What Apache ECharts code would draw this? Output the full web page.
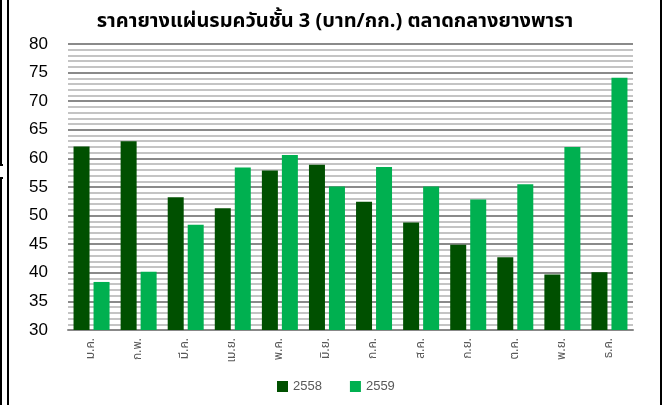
<!DOCTYPE html>
<html>
<head>
<meta charset="utf-8">
<script src="https://cdn.jsdelivr.net/npm/echarts@6/dist/echarts.min.js"></script>
<style>
html,body{margin:0;padding:0;background:#fff;}
#main{width:663px;height:405px;}
</style>
</head>
<body>
<div id="main"></div>
<script>
// เดือน
var months = ['ม.ค.','ก.พ.','มี.ค.','เม.ย.','พ.ค.','มิ.ย.','ก.ค.','ส.ค.','ก.ย.','ต.ค.','พ.ย.','ธ.ค.'];
// ราคา ปี 2558
var price2558 = [62.1, 63.0, 53.2, 51.3, 57.9, 58.9, 52.4, 48.8, 44.9, 42.7, 39.7, 40.1];
// ราคา ปี 2559
var price2559 = [38.4, 40.2, 48.4, 58.4, 60.6, 55.1, 58.5, 55.1, 52.8, 55.5, 62.0, 74.1];
var yTicks = [30, 35, 40, 45, 50, 55, 60, 65, 70, 75, 80];

var thaiFont = '"Noto Sans Thai","Loma","Tahoma","DejaVu Sans","Liberation Sans",sans-serif';

var myChart = echarts.init(document.getElementById('main'));
var option = {
    animation: false,
    backgroundColor: '#fff',
    color: ['#005000', '#00b050'],
    title: {
        text: 'ราคายางแผ่นรมควันชั้น 3 (บาท/กก.) ตลาดกลางยางพารา',
        left: 330,
        textAlign: 'center',
        top: 8,
        textStyle: {fontSize: 20, fontWeight: 'bold', color: '#000', fontFamily: thaiFont}
    },
    legend: {
        bottom: 7,
        left: 272,
        itemWidth: 11,
        itemHeight: 11,
        itemGap: 28,
        icon: 'rect',
        textStyle: {fontSize: 13, color: '#595959', fontFamily: '"Liberation Sans", Arial, sans-serif'},
        data: ['2558', '2559']
    },
    grid: {
        left: 68,
        right: 30,
        top: 44,
        bottom: 75,
        containLabel: false
    },
    xAxis: {
        type: 'category',
        data: months,
        axisLine: {lineStyle: {color: '#888', width: 2}},
        axisTick: {show: false},
        axisLabel: {
            rotate: 90,
            fontSize: 12,
            color: '#595959',
            margin: 8,
            fontFamily: thaiFont
        }
    },
    yAxis: {
        type: 'value',
        min: yTicks[0],
        max: yTicks[yTicks.length - 1],
        interval: 5,
        axisLine: {show: false},
        axisTick: {show: false},
        axisLabel: {fontSize: 17, color: '#000', margin: 20, fontFamily: '"Liberation Sans", Arial, sans-serif'},
        splitLine: {lineStyle: {color: '#8a8a8a', width: 2}},
        minorTick: {show: false, splitNumber: 5},
        minorSplitLine: {show: true, lineStyle: {color: '#c4c4c4', width: 2}}
    },
    series: [
        {
            name: '2558',
            type: 'bar',
            data: price2558,
            barWidth: 16,
            barGap: '25%'
        },
        {
            name: '2559',
            type: 'bar',
            data: price2559,
            barWidth: 16
        }
    ],
    graphic: [
        {type: 'line', shape: {x1: 8, y1: 0, x2: 8, y2: 405}, style: {stroke: '#000', lineWidth: 2}},
        {type: 'line', shape: {x1: 661, y1: 0, x2: 661, y2: 405}, style: {stroke: '#000', lineWidth: 2}},
        {type: 'polyline', shape: {points: [[1, 0], [1, 165], [3, 165]]}, style: {stroke: '#000', lineWidth: 2, fill: null}},
        {type: 'polyline', shape: {points: [[3, 178], [1, 178], [1, 405]]}, style: {stroke: '#000', lineWidth: 2, fill: null}}
    ]
};
myChart.setOption(option);
</script>
</body>
</html>
